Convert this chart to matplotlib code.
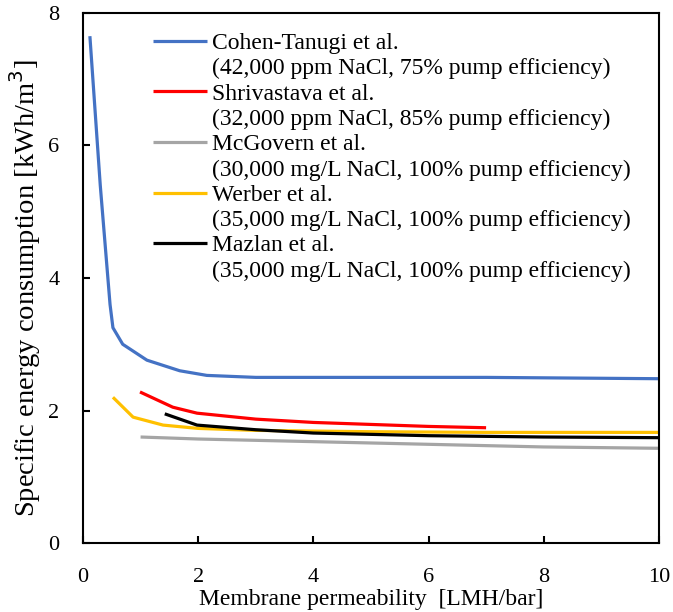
import matplotlib.pyplot as plt
from matplotlib.lines import Line2D

plt.rcParams['font.family'] = ['Liberation Serif', 'DejaVu Serif']

cohen_x = [0.12, 0.3, 0.47, 0.52, 0.69, 1.11, 1.68, 2.15, 3.0, 5.0, 7.0, 10.0]
cohen_y = [7.65, 5.4, 3.6, 3.25, 3.0, 2.76, 2.6, 2.53, 2.5, 2.5, 2.5, 2.48]

shriv_x = [0.99, 1.56, 1.98, 3.0, 4.0, 5.0, 6.0, 7.0]
shriv_y = [2.28, 2.05, 1.96, 1.87, 1.82, 1.79, 1.76, 1.74]

mcgov_x = [1.0, 2.0, 4.0, 6.0, 8.0, 10.0]
mcgov_y = [1.6, 1.57, 1.53, 1.49, 1.45, 1.43]

werber_x = [0.52, 0.87, 1.39, 2.0, 3.0, 5.0, 7.0, 10.0]
werber_y = [2.2, 1.9, 1.78, 1.73, 1.7, 1.68, 1.67, 1.67]

mazlan_x = [1.42, 1.98, 3.0, 4.0, 6.0, 8.0, 10.0]
mazlan_y = [1.95, 1.78, 1.71, 1.66, 1.62, 1.6, 1.59]

names = ['Cohen-Tanugi et al.', 'Shrivastava et al.', 'McGovern et al.',
         'Werber et al.', 'Mazlan et al.']
notes = ['(42,000 ppm NaCl, 75% pump efficiency)',
         '(32,000 ppm NaCl, 85% pump efficiency)',
         '(30,000 mg/L NaCl, 100% pump efficiency)',
         '(35,000 mg/L NaCl, 100% pump efficiency)',
         '(35,000 mg/L NaCl, 100% pump efficiency)']
colors = ['#4472C4', '#FF0000', '#A5A5A5', '#FFC000', '#000000']

fig = plt.figure(figsize=(6.73, 6.12), dpi=100)
ax = fig.add_axes([0.1233, 0.1127, 0.8557, 0.8661])

series = [(cohen_x, cohen_y), (shriv_x, shriv_y), (mcgov_x, mcgov_y),
          (werber_x, werber_y), (mazlan_x, mazlan_y)]
lines = []
for (xs, ys), c in zip(series, colors):
    ln, = ax.plot(xs, ys, color=c, lw=2.3, solid_capstyle='butt')
    lines.append(ln)

ax.set_xlim(0, 10)
ax.set_ylim(0, 8)
ax.set_xticks([0, 2, 4, 6, 8, 10])
ax.set_yticks([0, 2, 4, 6, 8])
ax.tick_params(direction='in', length=5, width=1.5, labelsize=16)
ax.tick_params(axis='x', pad=18)
ax.tick_params(axis='y', pad=17)
for s in ax.spines.values():
    s.set_linewidth(1.5)

ax.set_xlabel('Membrane permeability  [LMH/bar]', fontsize=17)
ax.xaxis.set_label_coords(0.5, -0.086)
ax.set_ylabel('Specific energy consumption [kWh/m$^3$]', fontsize=20.5)
ax.yaxis.set_label_coords(-0.07, 0.481)

# two rows per entry: the line sits on the name row
blank = Line2D([], [], linestyle='none')
handles, labels = [], []
for ln, n, t in zip(lines, names, notes):
    handles += [ln, blank]
    labels += [n, t]
ax.legend(handles, labels, loc='upper left', bbox_to_anchor=(0.105, 0.981),
          frameon=False, fontsize=17, handlelength=2.29, handletextpad=0.21,
          labelspacing=0.16, borderaxespad=0)

fig.savefig('out.png', dpi=100)
